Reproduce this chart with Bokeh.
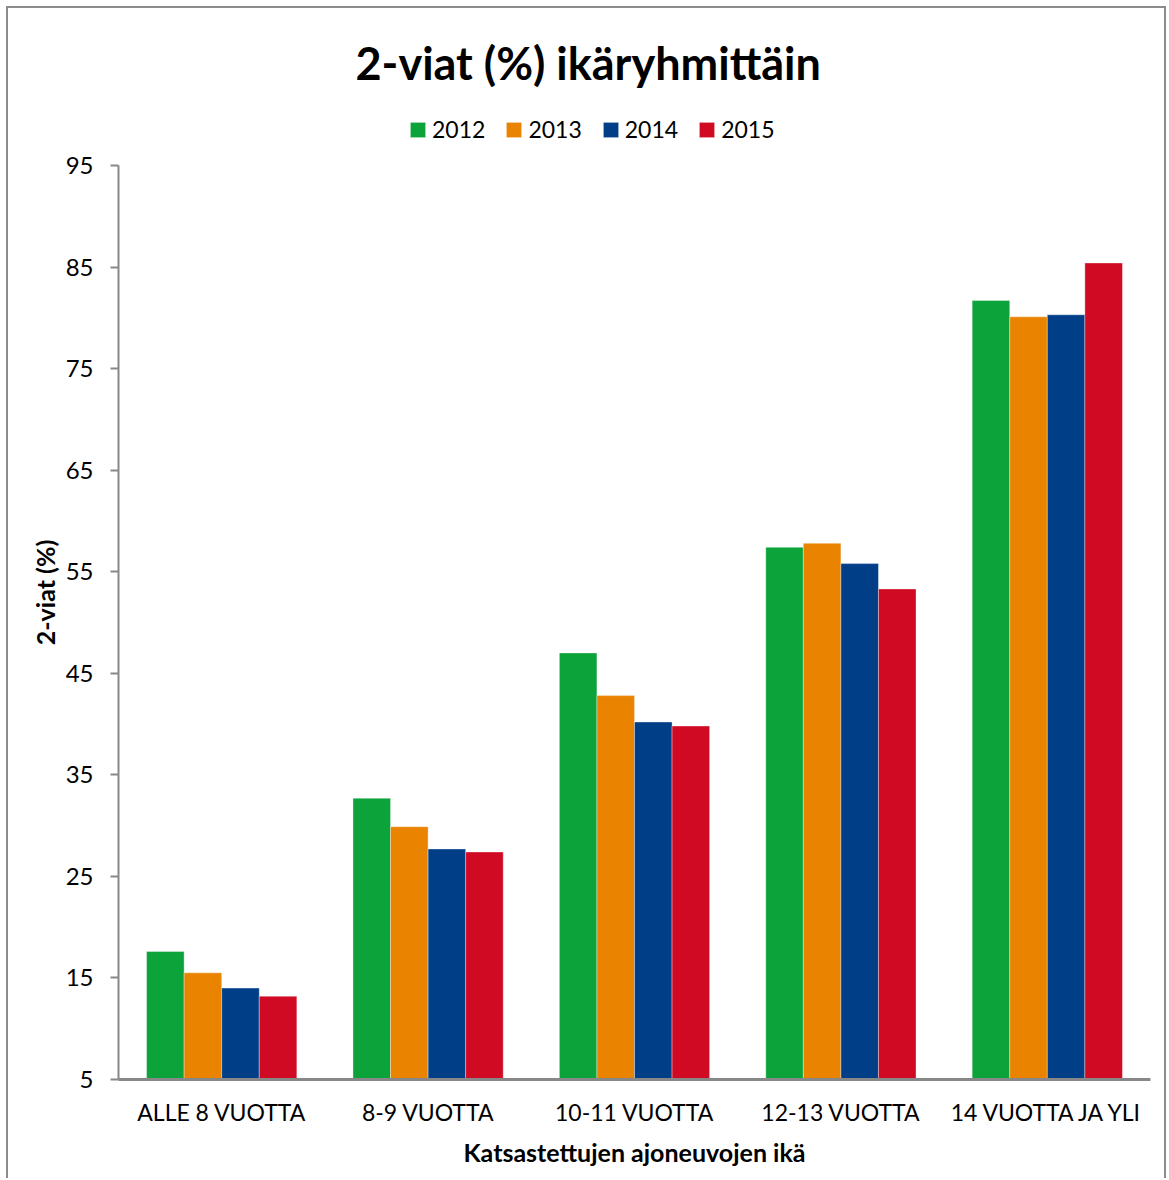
from bokeh.plotting import figure
from bokeh.models import FactorRange, Legend, LegendItem, FixedTicker, ColumnDataSource, Range1d
from bokeh.transform import dodge
from bokeh.embed import file_html
from bokeh.resources import INLINE

groups = ["ALLE 8 VUOTTA", "8-9 VUOTTA", "10-11 VUOTTA", "12-13 VUOTTA", "14 VUOTTA JA YLI"]
years = ["2012", "2013", "2014", "2015"]
v2012 = [17.6, 32.7, 47.0, 57.4, 81.7]
v2013 = [15.5, 29.9, 42.8, 57.8, 80.1]
v2014 = [14.0, 27.7, 40.2, 55.8, 80.3]
v2015 = [13.2, 27.4, 39.8, 53.3, 85.4]
yticks = [5, 15, 25, 35, 45, 55, 65, 75, 85, 95]
colors = ["#0ca43a", "#e98300", "#003f87", "#cf0a22"]

src = ColumnDataSource(dict(g=groups, y2012=v2012, y2013=v2013, y2014=v2014, y2015=v2015))

FONT = "Lato"
# frame extends 60px above the 95 line so the legend can sit inside it
px_per_unit = 914 / 90.0
y_top = 95 + 60 / px_per_unit

p = figure(x_range=FactorRange(*groups, range_padding=0), y_range=Range1d(5, y_top),
           width=1160, height=1172, output_backend="svg", toolbar_location=None,
           min_border_left=110, min_border_right=18, min_border_bottom=101, min_border_top=97)
p.styles = {"border": "2px solid #8c8c8c", "border-bottom": "none", "box-sizing": "border-box",
            "margin-left": "6px", "margin-top": "6px"}

offsets = [-0.273, -0.091, 0.091, 0.273]
renderers = []
for yr, off, c in zip(years, offsets, colors):
    r = p.vbar(x=dodge("g", off, range=p.x_range), top="y" + yr, bottom=5, width=0.182,
               source=src, fill_color=c, line_color="white", line_alpha=0.35, line_width=1)
    renderers.append(r)

p.title.text = "2-viat (%) ikäryhmittäin"
p.title.align = "left"
p.title.offset = 237
p.title.text_font = FONT
p.title.text_font_size = "45px"
p.title.text_font_style = "bold"
p.title.text_color = "black"
p.title.standoff = 31

legend = Legend(items=[LegendItem(label=yr, renderers=[r]) for yr, r in zip(years, renderers)],
                orientation="horizontal", location=(290, 936))
legend.label_text_font = FONT
legend.label_text_font_size = "23px"
legend.label_text_color = "black"
legend.glyph_width = 19
legend.glyph_height = 19
legend.label_height = 20
legend.label_standoff = 5
legend.spacing = 19
legend.border_line_color = None
legend.background_fill_alpha = 0
legend.margin = 0
legend.padding = 0
p.add_layout(legend, "center")

p.grid.visible = False
p.outline_line_color = None

p.yaxis.ticker = FixedTicker(ticks=yticks)
p.yaxis.bounds = (5, 95)
p.yaxis.axis_line_color = "#888888"
p.yaxis.axis_line_width = 2
p.yaxis.major_tick_line_color = "#888888"
p.yaxis.major_tick_line_width = 2
p.yaxis.major_tick_out = 8
p.yaxis.major_tick_in = 0
p.yaxis.minor_tick_line_color = None
p.yaxis.major_label_text_font = FONT
p.yaxis.major_label_text_font_size = "24px"
p.yaxis.major_label_text_color = "black"
p.yaxis.major_label_standoff = 17
p.yaxis.axis_label = "2-viat (%)"
p.yaxis.axis_label_text_font = FONT
p.yaxis.axis_label_text_font_size = "25px"
p.yaxis.axis_label_text_font_style = "bold"
p.yaxis.axis_label_text_color = "black"
p.yaxis.axis_label_standoff = 3

p.xaxis.axis_line_color = "#888888"
p.xaxis.axis_line_width = 3
p.xaxis.major_tick_line_color = None
p.xaxis.minor_tick_line_color = None
p.xaxis.major_label_text_font = FONT
p.xaxis.major_label_text_font_size = "23px"
p.xaxis.major_label_text_color = "black"
p.xaxis.major_label_standoff = 12
p.xaxis.axis_label = "Katsastettujen ajoneuvojen ikä"
p.xaxis.axis_label_text_font = FONT
p.xaxis.axis_label_text_font_size = "25px"
p.xaxis.axis_label_text_font_style = "bold"
p.xaxis.axis_label_text_color = "black"
p.xaxis.axis_label_standoff = 8

open("out.html", "w").write(file_html(p, INLINE))
